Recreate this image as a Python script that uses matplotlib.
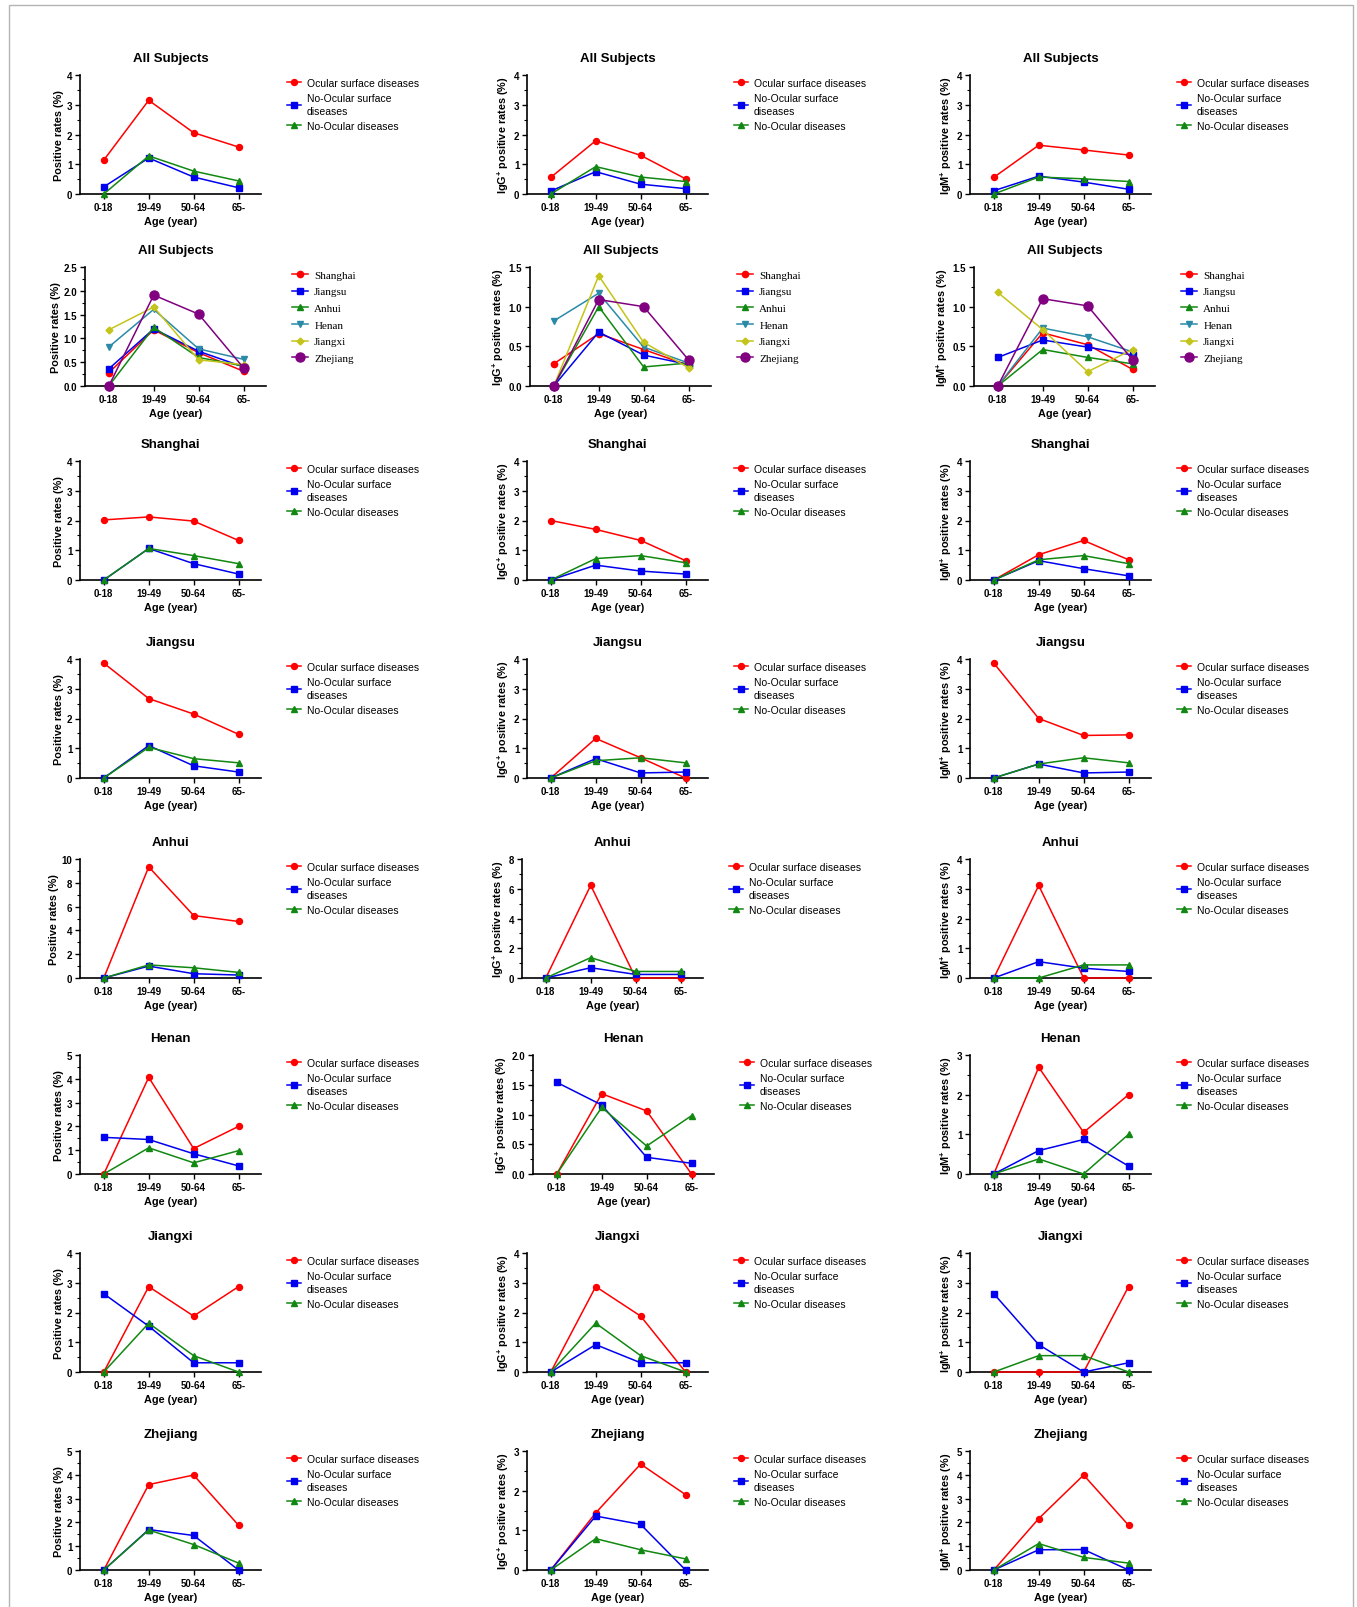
import numpy as np
import matplotlib
matplotlib.use("Agg")
import matplotlib.pyplot as plt
from matplotlib.ticker import MultipleLocator, FormatStrFormatter
from matplotlib.patches import Rectangle

plt.rcParams['font.family'] = ['Liberation Sans', 'DejaVu Sans']
plt.rcParams['mathtext.fontset'] = 'custom'
plt.rcParams['mathtext.rm'] = 'Liberation Sans:bold'
plt.rcParams['mathtext.bf'] = 'Liberation Sans:bold'

# --- data ---
ages = ["0-18", "19-49", "50-64", "65-"]
groups = ["Ocular surface diseases", "No-Ocular surface\ndiseases", "No-Ocular diseases"]
regions = ["Shanghai", "Jiangsu", "Anhui", "Henan", "Jiangxi", "Zhejiang"]

# each entry: [ocular surface, no-ocular surface, no-ocular]
all_pos = [[1.14, 3.15, 2.06, 1.58], [0.24, 1.21, 0.57, 0.21], [0.0, 1.28, 0.77, 0.44]]
all_igg = [[0.56, 1.79, 1.30, 0.51], [0.10, 0.75, 0.33, 0.18], [0.0, 0.92, 0.57, 0.42]]
all_igm = [[0.56, 1.64, 1.48, 1.31], [0.11, 0.60, 0.40, 0.16], [0.0, 0.57, 0.51, 0.42]]

# by region: Shanghai, Jiangsu, Anhui, Henan, Jiangxi, Zhejiang
region_pos = [[0.28, 1.18, 0.70, 0.31], [0.36, 1.20, 0.73, 0.40], [0.0, 1.23, 0.60, 0.42],
              [0.82, 1.61, 0.78, 0.56], [1.18, 1.66, 0.55, 0.45], [0.0, 1.91, 1.51, 0.38]]
region_igg = [[0.28, 0.66, 0.46, 0.26], [0.0, 0.68, 0.39, 0.27], [0.0, 1.00, 0.24, 0.29],
              [0.82, 1.17, 0.49, 0.29], [0.0, 1.39, 0.55, 0.23], [0.0, 1.09, 1.00, 0.33]]
region_igm = [[0.0, 0.67, 0.52, 0.21], [0.36, 0.58, 0.49, 0.39], [0.0, 0.46, 0.36, 0.28],
              [0.0, 0.73, 0.62, 0.43], [1.18, 0.71, 0.18, 0.46], [0.0, 1.10, 1.01, 0.33]]

shanghai_pos = [[2.02, 2.12, 1.98, 1.33], [0.0, 1.06, 0.55, 0.20], [0.0, 1.06, 0.82, 0.55]]
shanghai_igg = [[2.00, 1.70, 1.33, 0.65], [0.0, 0.50, 0.30, 0.20], [0.0, 0.72, 0.82, 0.58]]
shanghai_igm = [[0.0, 0.85, 1.33, 0.68], [0.0, 0.65, 0.38, 0.14], [0.0, 0.68, 0.82, 0.55]]

jiangsu_pos = [[3.86, 2.67, 2.15, 1.47], [0.0, 1.09, 0.41, 0.20], [0.0, 1.03, 0.65, 0.51]]
jiangsu_igg = [[0.0, 1.33, 0.68, 0.0], [0.0, 0.65, 0.17, 0.20], [0.0, 0.58, 0.68, 0.51]]
jiangsu_igm = [[3.86, 2.00, 1.43, 1.45], [0.0, 0.47, 0.17, 0.20], [0.0, 0.47, 0.68, 0.51]]

anhui_pos = [[0.0, 9.34, 5.25, 4.75], [0.0, 1.00, 0.36, 0.25], [0.0, 1.10, 0.86, 0.47]]
anhui_igg = [[0.0, 6.23, 0.0, 0.0], [0.0, 0.69, 0.24, 0.24], [0.0, 1.37, 0.44, 0.44]]
anhui_igm = [[0.0, 3.11, 0.0, 0.0], [0.0, 0.55, 0.33, 0.22], [0.0, 0.0, 0.44, 0.44]]

henan_pos = [[0.0, 4.06, 1.07, 2.00], [1.54, 1.45, 0.85, 0.34], [0.0, 1.10, 0.47, 0.98]]
henan_igg = [[0.0, 1.35, 1.06, 0.0], [1.54, 1.16, 0.28, 0.18], [0.0, 1.12, 0.47, 0.98]]
henan_igm = [[0.0, 2.69, 1.05, 2.00], [0.0, 0.59, 0.87, 0.20], [0.0, 0.38, 0.0, 1.00]]

jiangxi_pos = [[0.0, 2.87, 1.88, 2.87], [2.63, 1.54, 0.31, 0.31], [0.0, 1.64, 0.55, 0.0]]
jiangxi_igg = [[0.0, 2.87, 1.88, 0.0], [0.0, 0.92, 0.31, 0.31], [0.0, 1.64, 0.55, 0.0]]
jiangxi_igm = [[0.0, 0.0, 0.0, 2.87], [2.63, 0.92, 0.0, 0.31], [0.0, 0.55, 0.55, 0.0]]

zhejiang_pos = [[0.0, 3.59, 3.99, 1.88], [0.0, 1.70, 1.45, 0.0], [0.0, 1.68, 1.07, 0.29]]
zhejiang_igg = [[0.0, 1.44, 2.67, 1.90], [0.0, 1.36, 1.15, 0.0], [0.0, 0.79, 0.51, 0.28]]
zhejiang_igm = [[0.0, 2.16, 3.99, 1.88], [0.0, 0.85, 0.86, 0.0], [0.0, 1.11, 0.53, 0.29]]

# rows: title, [pos, igg, igm], [(ymax, step) per column], by-region?
rows = [
    ("All Subjects", [all_pos, all_igg, all_igm], [(4, 1), (4, 1), (4, 1)], False),
    ("All Subjects", [region_pos, region_igg, region_igm], [(2.5, 0.5), (1.5, 0.5), (1.5, 0.5)], True),
    ("Shanghai", [shanghai_pos, shanghai_igg, shanghai_igm], [(4, 1), (4, 1), (4, 1)], False),
    ("Jiangsu", [jiangsu_pos, jiangsu_igg, jiangsu_igm], [(4, 1), (4, 1), (4, 1)], False),
    ("Anhui", [anhui_pos, anhui_igg, anhui_igm], [(10, 2), (8, 2), (4, 1)], False),
    ("Henan", [henan_pos, henan_igg, henan_igm], [(5, 1), (2, 0.5), (3, 1)], False),
    ("Jiangxi", [jiangxi_pos, jiangxi_igg, jiangxi_igm], [(4, 1), (4, 1), (4, 1)], False),
    ("Zhejiang", [zhejiang_pos, zhejiang_igg, zhejiang_igm], [(5, 1), (3, 1), (5, 1)], False),
]

ylabels = ["Positive rates (%)",
           r"IgG$^{+}$ positive rates (%)",
           r"IgM$^{+}$ positive rates (%)"]

group_styles = [("#FF0000", "o", 4.3), ("#0000EE", "s", 4.3), ("#118811", "^", 4.3)]
region_styles = [("#FF0000", "o", 4.5), ("#0000EE", "s", 4.5), ("#118811", "^", 4.5),
                 ("#2A8AA8", "v", 4.5), ("#C4C41A", "D", 3.5), ("#800080", "o", 6.5)]

# --- layout in pixels ---
W, H = 1357, 1608
row_tops = [76, 268, 462, 660, 860, 1056, 1254, 1452]
col_lefts = [80, 527, 970]
# small per-panel horizontal shifts seen in the original
shifts = {(1, 0): 5, (1, 1): 3, (1, 2): 4, (4, 1): -5, (5, 1): 6}
ax_w, ax_h = 181, 119

fig = plt.figure(figsize=(W / 100, H / 100), dpi=100)
fig.patches.append(Rectangle((9 / W, -0.02), (1353 - 9) / W, 1 - 6 / H + 0.02,
                             transform=fig.transFigure, fill=False,
                             edgecolor="#b4b4b4", linewidth=1.0))

x = np.arange(len(ages))

for r, (title, panels, scales, by_region) in enumerate(rows):
    for c in range(3):
        left = col_lefts[c] + shifts.get((r, c), 0)
        top = row_tops[r]
        ax = fig.add_axes([left / W, 1 - (top + ax_h) / H, ax_w / W, ax_h / H])
        series = panels[c]
        styles = region_styles if by_region else group_styles
        names = regions if by_region else groups
        handles = []
        for vals, (col, mk, ms), name in zip(series, styles, names):
            ln, = ax.plot(x, vals, color=col, marker=mk, markersize=ms, linewidth=1.1,
                          clip_on=False, zorder=3, label=name)
            handles.append(ln)

        ymax, step = scales[c]
        ax.set_ylim(0, ymax)
        ax.set_xlim(-0.53, 3.5)
        ax.yaxis.set_major_locator(MultipleLocator(step))
        ax.yaxis.set_minor_locator(MultipleLocator(step / 2))
        ax.yaxis.set_major_formatter(FormatStrFormatter("%.1f" if step < 1 else "%d"))
        ax.set_xticks(x)
        ax.set_xticklabels(ages)

        for s in ["top", "right"]:
            ax.spines[s].set_visible(False)
        for s in ["left", "bottom"]:
            ax.spines[s].set_linewidth(1.2)
        ax.tick_params(axis="both", which="major", length=3.5, width=1.0, pad=2,
                       labelsize=7.0)
        ax.tick_params(axis="y", which="minor", length=2, width=0.8)
        for lab in ax.get_xticklabels() + ax.get_yticklabels():
            lab.set_fontweight("bold")

        ax.set_title(title, fontsize=9.5, fontweight="bold", pad=10)
        ax.set_xlabel("Age (year)", fontsize=7.8, fontweight="bold", labelpad=3)
        ax.set_ylabel(ylabels[c], fontsize=7.8, fontweight="bold", labelpad=2)

        anchor = ((left + ax_w + 26) / W, 1 - (top + 3) / H)
        if by_region:
            leg = ax.legend(handles=handles, loc="upper left", bbox_to_anchor=anchor,
                            bbox_transform=fig.transFigure, frameon=False,
                            borderpad=0, borderaxespad=0, handlelength=1.4,
                            handletextpad=0.6, labelspacing=0.62,
                            prop={"family": "Liberation Serif", "size": 8})
        else:
            leg = ax.legend(handles=handles, loc="upper left", bbox_to_anchor=anchor,
                            bbox_transform=fig.transFigure, frameon=False,
                            borderpad=0, borderaxespad=0, handlelength=1.3,
                            handletextpad=0.6, labelspacing=0.5, fontsize=7.5)
            for t in leg.get_texts():
                t.set_linespacing(1.3)

fig.savefig("out.png", dpi=100)
